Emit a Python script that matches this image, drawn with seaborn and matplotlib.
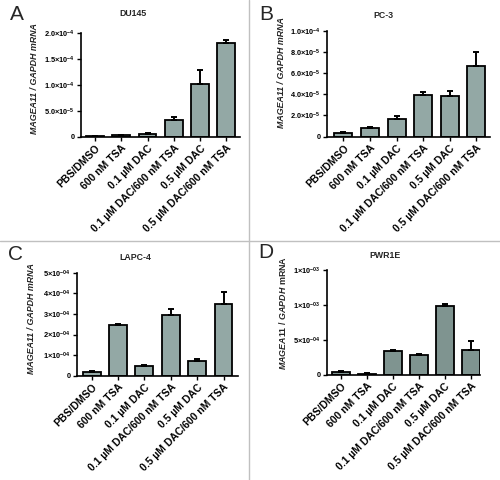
import numpy as np
import pandas as pd
import matplotlib
matplotlib.use("Agg")
import matplotlib.pyplot as plt
from matplotlib.lines import Line2D
import seaborn as sns

sns.set_style("ticks")
plt.rcParams['font.family'] = ['Liberation Sans', 'DejaVu Sans']
plt.rcParams['mathtext.fontset'] = 'custom'
plt.rcParams['mathtext.rm'] = 'Liberation Sans:bold'
plt.rcParams['mathtext.bf'] = 'Liberation Sans:bold'
plt.rcParams['mathtext.it'] = 'Liberation Sans:bold:italic'

categories = ["PBS/DMSO", "600 nM TSA", "0.1 µM DAC", "0.1 µM DAC/600 nM TSA",
              "0.5 µM DAC", "0.5 µM DAC/600 nM TSA"]

titles = ["DU145", "PC-3", "LAPC-4", "PWR1E"]
letters = ["A", "B", "C", "D"]

A_vals = [0.06e-5, 0.26e-5, 0.58e-5, 3.14e-5, 1.006e-4, 1.81e-4]
A_err = [0.02e-5, 0.12e-5, 0.19e-5, 0.66e-5, 2.74e-5, 0.04e-4]
B_vals = [0.38e-5, 0.85e-5, 1.67e-5, 3.90e-5, 3.87e-5, 6.64e-5]
B_err = [0.09e-5, 0.09e-5, 0.25e-5, 0.35e-5, 0.47e-5, 1.32e-5]
C_vals = [0.18e-4, 2.47e-4, 0.49e-4, 2.93e-4, 0.73e-4, 3.46e-4]
C_err = [0.06e-4, 0.06e-4, 0.04e-4, 0.32e-4, 0.08e-4, 0.60e-4]
D_vals = [0.38e-4, 0.14e-4, 3.44e-4, 2.76e-4, 9.86e-4, 3.48e-4]
D_err = [0.10e-4, 0.15e-4, 0.09e-4, 0.24e-4, 0.24e-4, 1.33e-4]

A_ticks = [0, 5e-5, 1e-4, 1.5e-4, 2e-4]
A_ticklabels = ["0", "5.0×10$^{-5}$", "1.0×10$^{-4}$", "1.5×10$^{-4}$", "2.0×10$^{-4}$"]
B_ticks = [0, 2e-5, 4e-5, 6e-5, 8e-5, 1e-4]
B_ticklabels = ["0", "2.0×10$^{-5}$", "4.0×10$^{-5}$", "6.0×10$^{-5}$", "8.0×10$^{-5}$", "1.0×10$^{-4}$"]
C_ticks = [0, 1e-4, 2e-4, 3e-4, 4e-4, 5e-4]
C_ticklabels = ["0", "1×10$^{-04}$", "2×10$^{-04}$", "3×10$^{-04}$", "4×10$^{-04}$", "5×10$^{-04}$"]
D_ticks = [0, 5e-4, 1e-3, 1.5e-3]
D_ticklabels = ["0", "5×10$^{-04}$", "1×10$^{-03}$", "1×10$^{-03}$"]

ylabel_main = "MAGEA11 / GAPDH mRNA"
ylabel_d = r"$\mathit{MAGEA11\ /\ GAPDH}$ mRNA"

W, H = 500, 480
fig = plt.figure(figsize=(5, 4.8), dpi=100)

def px_axes(left, right, top, bottom):
    return fig.add_axes([left / W, 1 - bottom / H, (right - left) / W, (bottom - top) / H])

panels = [
    dict(vals=A_vals, err=A_err, ticks=A_ticks, tl=A_ticklabels, box=(81, 240, 32.7, 136.7),
         xlim=(-0.54, 5.53), color="#93a8a5", title_xy=(133, 13), letter_xy=(17, 14.5),
         ylab_xy=(34.5, 78.5), ylab=ylabel_main, italic=True),
    dict(vals=B_vals, err=B_err, ticks=B_ticks, tl=B_ticklabels, box=(327, 490, 30.7, 136.7),
         xlim=(-0.62, 5.52), color="#93a8a5", title_xy=(383, 15), letter_xy=(266.5, 14.5),
         ylab_xy=(282, 72.5), ylab=ylabel_main, italic=True),
    dict(vals=C_vals, err=C_err, ticks=C_ticks, tl=C_ticklabels, box=(77, 238, 272.7, 375.7),
         xlim=(-0.56, 5.55), color="#93a8a5", title_xy=(135, 258), letter_xy=(15.5, 254.5),
         ylab_xy=(32, 318.5), ylab=ylabel_main, italic=True),
    dict(vals=D_vals, err=D_err, ticks=D_ticks, tl=D_ticklabels, box=(326.7, 480, 269.7, 374.7),
         xlim=(-0.54, 5.35), color="#7f9490", title_xy=(385, 255), letter_xy=(265.5, 252.5),
         ylab_xy=(283, 313), ylab=ylabel_d, italic=False),
]

for i, p in enumerate(panels):
    ax = px_axes(*p["box"])
    df = pd.DataFrame({"cat": categories, "val": p["vals"]})
    sns.barplot(data=df, x="cat", y="val", ax=ax, color=p["color"], saturation=1,
                edgecolor="black", linewidth=1.3, width=0.68)
    x = np.arange(len(categories))
    ax.errorbar(x, p["vals"], yerr=[np.zeros(len(x)), p["err"]], fmt="none",
                ecolor="black", elinewidth=1.4, capsize=2.4, capthick=1.4, zorder=1)
    ax.set_xlim(*p["xlim"])
    ax.set_ylim(0, p["ticks"][-1])
    ax.set_yticks(p["ticks"])
    ax.set_yticklabels(p["tl"], fontsize=5.3, fontweight="bold")
    ax.set_xticks(x)
    ax.set_xticklabels(categories, rotation=45, ha="right", rotation_mode="anchor",
                       fontsize=7.5, fontweight="bold")
    ax.set_xlabel("")
    ax.set_ylabel("")
    for s in ["top", "right"]:
        ax.spines[s].set_visible(False)
    for s in ["left", "bottom"]:
        ax.spines[s].set_linewidth(1.2)
        ax.spines[s].set_color("black")
    ax.tick_params(axis="both", length=3, width=1.0, pad=1.5, colors="black")
    ax.patch.set_alpha(0)

    tx, ty = p["title_xy"]
    fig.text(tx / W, 1 - ty / H, titles[i], ha="center", va="center",
             fontsize=6.3, fontweight="bold")
    lx, ly = p["letter_xy"]
    fig.text(lx / W, 1 - ly / H, letters[i], ha="center", va="center", fontsize=15)
    yx, yy = p["ylab_xy"]
    fig.text(yx / W, 1 - yy / H, p["ylab"], ha="center", va="center", rotation=90,
             fontsize=6.4, fontweight="bold", fontstyle="italic" if p["italic"] else "normal")

fig.add_artist(Line2D([249 / W, 249 / W], [0, 1], color="#c0c0c0", lw=1.0))
fig.add_artist(Line2D([0, 1], [1 - 241 / H, 1 - 241 / H], color="#c0c0c0", lw=1.0))

fig.savefig("out.png", dpi=100)
